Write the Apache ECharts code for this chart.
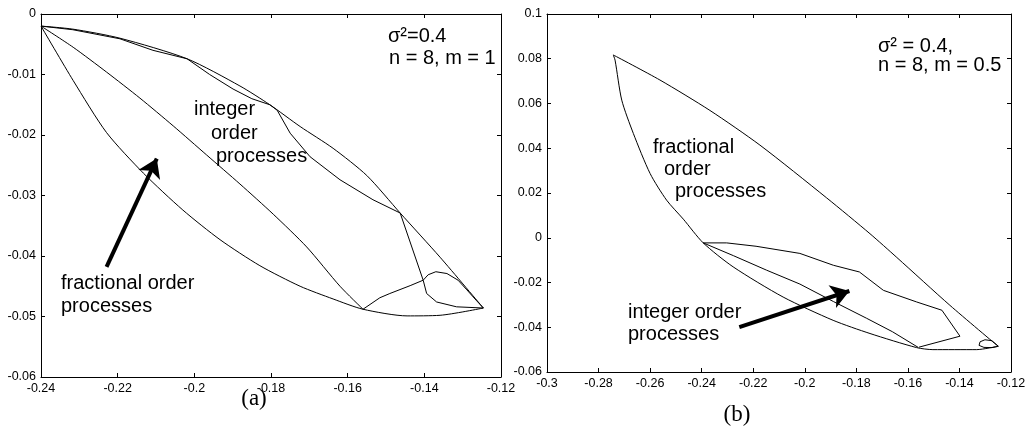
<!DOCTYPE html>
<html><head><meta charset="utf-8">
<script src="https://cdn.jsdelivr.net/npm/echarts@6/dist/echarts.min.js"></script>
<style>html,body{margin:0;padding:0;background:#fff}#c{width:1036px;height:431px}</style>
</head><body><div id="c"></div>
<script>
// ---- axis ranges [min, max, interval] ----
const leftXRange  = [-0.24, -0.12, 0.02];
const leftYRange  = [-0.06, 0, 0.01];
const rightXRange = [-0.3, -0.12, 0.02];
const rightYRange = [-0.06, 0.1, 0.02];

// ---- panel (a) curves ----
const leftUpperArc = [[-0.2400,-0.0020],[-0.2317,-0.0025],[-0.2194,-0.0040],[-0.2019,-0.0074],[-0.1881,-0.0119],[-0.1803,-0.0150],[-0.1724,-0.0186],[-0.1638,-0.0222],[-0.1550,-0.0267],[-0.1463,-0.0329],[-0.1359,-0.0402],[-0.1246,-0.0486]];
const leftKinked = [[-0.2400,-0.0020],[-0.2317,-0.0026],[-0.2194,-0.0041],[-0.2108,-0.0060],[-0.2019,-0.0074],[-0.1960,-0.0100],[-0.1899,-0.0124],[-0.1850,-0.0140],[-0.1803,-0.0150],[-0.1784,-0.0159],[-0.1750,-0.0197],[-0.1698,-0.0236],[-0.1620,-0.0274],[-0.1534,-0.0307],[-0.1463,-0.0329],[-0.1403,-0.0440],[-0.1394,-0.0462],[-0.1368,-0.0476],[-0.1316,-0.0484],[-0.1246,-0.0486]];
const leftLowerArc = [[-0.2400,-0.0020],[-0.2316,-0.0110],[-0.2229,-0.0196],[-0.2133,-0.0263],[-0.2030,-0.0324],[-0.1933,-0.0373],[-0.1829,-0.0416],[-0.1724,-0.0450],[-0.1638,-0.0471],[-0.1560,-0.0488],[-0.1445,-0.0499],[-0.1359,-0.0498],[-0.1246,-0.0486]];
const leftDiagonal = [[-0.2400,-0.0020],[-0.2316,-0.0055],[-0.2229,-0.0096],[-0.2142,-0.0139],[-0.2055,-0.0185],[-0.1968,-0.0233],[-0.1881,-0.0281],[-0.1794,-0.0331],[-0.1707,-0.0385],[-0.1620,-0.0450],[-0.1560,-0.0488]];
const leftLoop = [[-0.1560,-0.0488],[-0.1516,-0.0469],[-0.1490,-0.0462],[-0.1437,-0.0449],[-0.1403,-0.0440],[-0.1390,-0.0431],[-0.1370,-0.0426],[-0.1341,-0.0429],[-0.1312,-0.0440],[-0.1289,-0.0456],[-0.1265,-0.0473],[-0.1246,-0.0486]];
const leftArrow = [[-0.2229,-0.0418],[-0.2098,-0.0239]];

// ---- panel (b) curves ----
const rightUpperLine = [[-0.2743,0.0817],[-0.2562,0.0705],[-0.2368,0.0569],[-0.2174,0.0414],[-0.1915,0.0178],[-0.1747,0.0018],[-0.1643,-0.0088],[-0.1437,-0.0302],[-0.1250,-0.0485]];
const rightArc = [[-0.2743,0.0817],[-0.2736,0.0794],[-0.2710,0.0615],[-0.2665,0.0466],[-0.2600,0.0287],[-0.2536,0.0168],[-0.2471,0.0083],[-0.2394,-0.0023],[-0.2278,-0.0130],[-0.2084,-0.0265],[-0.1890,-0.0369],[-0.1747,-0.0428],[-0.1566,-0.0491],[-0.1503,-0.0500],[-0.1333,-0.0500],[-0.1250,-0.0485]];
const rightKinked = [[-0.2394,-0.0023],[-0.2303,-0.0023],[-0.2189,-0.0038],[-0.2019,-0.0070],[-0.1889,-0.0123],[-0.1788,-0.0153],[-0.1695,-0.0235],[-0.1566,-0.0287],[-0.1468,-0.0324],[-0.1398,-0.0440],[-0.1557,-0.0489]];
const rightMiddle = [[-0.2394,-0.0023],[-0.2277,-0.0080],[-0.2148,-0.0145],[-0.2019,-0.0207],[-0.1889,-0.0285],[-0.1760,-0.0360],[-0.1660,-0.0420],[-0.1560,-0.0490]];
const rightSmallLoop = [[-0.1249,-0.0485],[-0.1274,-0.0460],[-0.1301,-0.0456],[-0.1320,-0.0465],[-0.1324,-0.0481],[-0.1305,-0.0490],[-0.1274,-0.0491],[-0.1249,-0.0485]];
const rightArrow = [[-0.2254,-0.0399],[-0.1827,-0.0238]];

const FONT = '"Liberation Sans", Arial, sans-serif';
const SERIF = '"Liberation Serif", "Times New Roman", serif';

function axisPair(range, gridIndex, pos, showLabel) {
  return {
    type: 'value', gridIndex, position: pos,
    min: range[0], max: range[1], interval: range[2],
    axisLine: {show: true, onZero: false, lineStyle: {color: '#000', width: 1}},
    axisTick: {show: true, inside: true, length: 4, lineStyle: {color: '#000', width: 1}},
    splitLine: {show: false},
    axisLabel: {show: showLabel, color: '#000', fontSize: 12.5, fontFamily: FONT, margin: 5}
  };
}

function curve(data, xi, yi, smooth) {
  return {type: 'line', xAxisIndex: xi, yAxisIndex: yi, data, symbol: 'none', showSymbol: false,
    smooth: smooth ? 0.25 : false, lineStyle: {color: '#000', width: 1}, silent: true, animation: false, z: 2};
}

function arrow(coords, xi, yi) {
  return {type: 'line', xAxisIndex: xi, yAxisIndex: yi, data: [], symbol: 'none', silent: true, animation: false,
    markLine: {silent: true, animation: false, symbol: ['none', 'arrow'], symbolSize: 18,
      itemStyle: {color: '#000'},
      lineStyle: {color: '#000', width: 4, type: 'solid'}, label: {show: false},
      data: [[{coord: coords[0]}, {coord: coords[1]}]]}};
}

function txt(t, x, y, size, family, align) {
  return {type: 'text', x, y, silent: true,
    style: {text: t, fontSize: size, fontFamily: family || FONT, fill: '#000', align: align || 'left', verticalAlign: 'middle'}};
}

const chart = echarts.init(document.getElementById('c'), null, {renderer: 'canvas'});
chart.setOption({
  animation: false,
  backgroundColor: '#fff',
  grid: [
    {left: 41, top: 14, width: 460, height: 363},
    {left: 547, top: 14, width: 464, height: 358}
  ],
  xAxis: [
    axisPair(leftXRange, 0, 'bottom', true),
    axisPair(leftXRange, 0, 'top', false),
    axisPair(rightXRange, 1, 'bottom', true),
    axisPair(rightXRange, 1, 'top', false)
  ],
  yAxis: [
    axisPair(leftYRange, 0, 'left', true),
    axisPair(leftYRange, 0, 'right', false),
    axisPair(rightYRange, 1, 'left', true),
    axisPair(rightYRange, 1, 'right', false)
  ],
  series: [
    curve(leftUpperArc, 0, 0, true),
    curve(leftKinked, 0, 0, false),
    curve(leftLowerArc, 0, 0, true),
    curve(leftDiagonal, 0, 0, true),
    curve(leftLoop, 0, 0, false),
    arrow(leftArrow, 0, 0),
    curve(rightUpperLine, 2, 2, true),
    curve(rightArc, 2, 2, true),
    curve(rightKinked, 2, 2, false),
    curve(rightMiddle, 2, 2, false),
    curve(rightSmallLoop, 2, 2, false),
    arrow(rightArrow, 2, 2)
  ],
  graphic: [
    txt('σ²=0.4', 388, 36, 20),
    txt('n = 8, m = 1', 389, 58, 20),
    txt('integer', 194, 109, 20),
    txt('order', 211, 133, 20),
    txt('processes', 216, 156, 20),
    txt('fractional order', 61, 283, 20),
    txt('processes', 61, 306, 20),
    txt('σ² = 0.4,', 878, 46, 20),
    txt('n = 8, m = 0.5', 878, 65, 20),
    txt('fractional', 653, 147, 20),
    txt('order', 664, 169, 20),
    txt('processes', 675, 191, 20),
    txt('integer order', 628, 312, 20),
    txt('processes', 628, 334, 20),
    txt('(a)', 254, 399, 23, SERIF, 'center'),
    txt('(b)', 737, 415, 23, SERIF, 'center')
  ]
});
</script></body></html>
